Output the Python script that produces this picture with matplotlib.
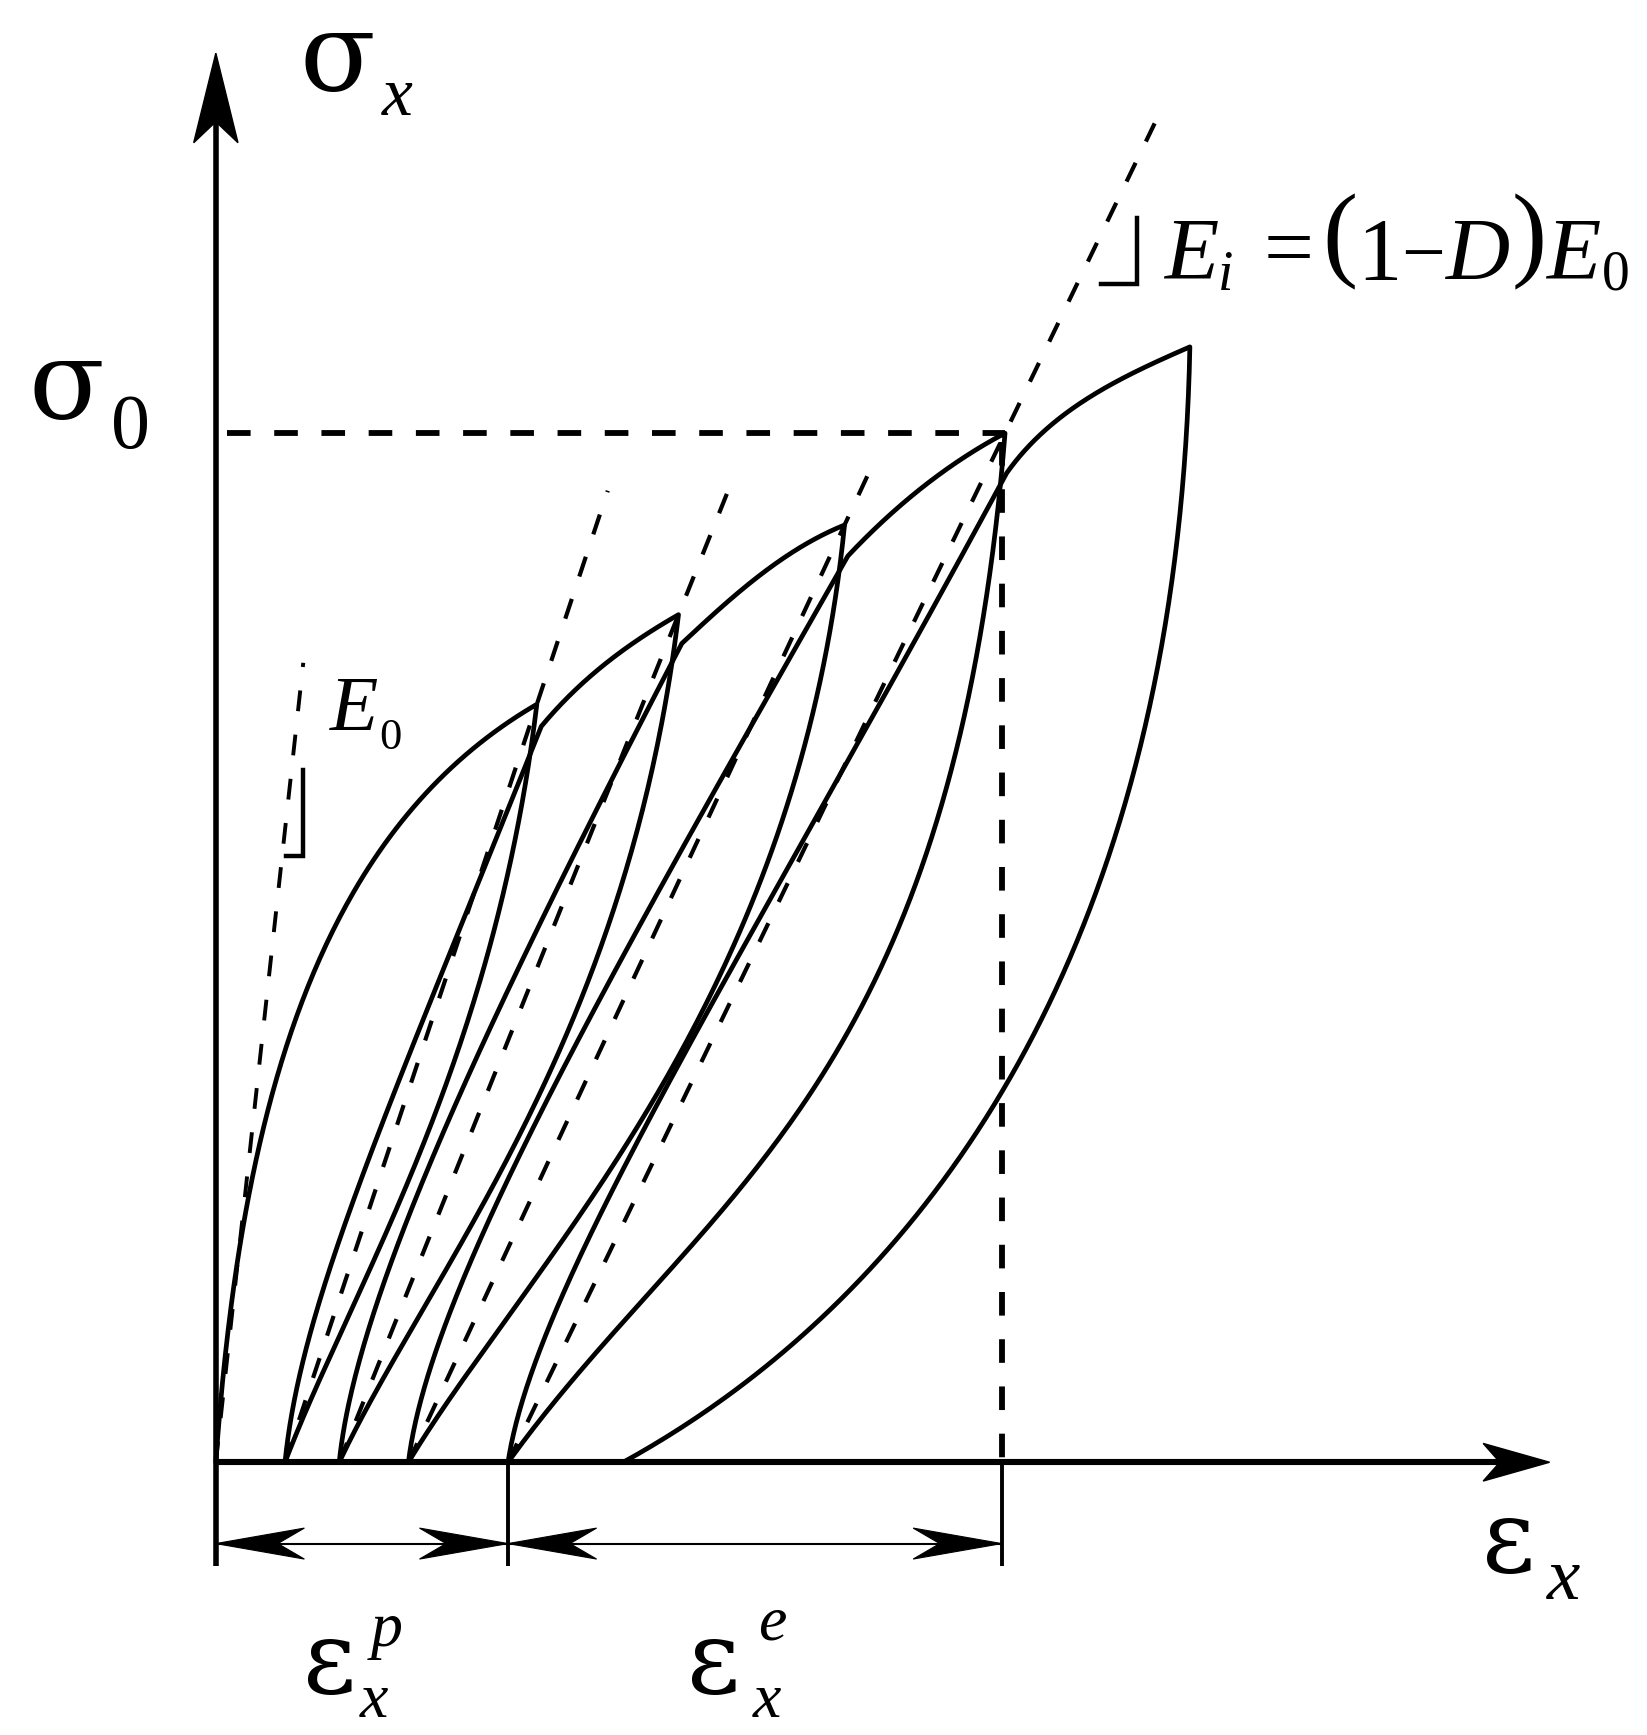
import numpy as np
import matplotlib
matplotlib.use("Agg")
import matplotlib.pyplot as plt
from matplotlib.patches import Polygon

plt.rcParams['lines.scale_dashes'] = False
plt.rcParams['font.family'] = ['Liberation Serif', 'DejaVu Serif']

# ---------------- data (schematic strain / stress units) ----------------
peak_eps  = [2.90, 4.18, 5.68, 7.13, 8.80]      # peaks of the loading envelope
peak_sig  = [6.85, 7.66, 8.47, 9.30, 10.08]
resid_eps = [0.625, 1.115, 1.74, 2.64, 3.68]    # residual (plastic) strains
cross_eps = [2.94, 4.21, 5.71, 7.145]           # reloading branch rejoins envelope
cross_sig = [6.65, 7.40, 8.19, 8.94]
sigma0 = 9.30
eps_total = 7.10                                # strain at sigma0
E0_top = [0.79, 7.225]                          # end of initial tangent (E0)
secant_top_sig = [8.78, 8.88, 8.97, 12.1]       # upper ends of secant lines E_i

# shape (tangent) parameters for the branches
env0_dir = [[0.07, 1.0], [0.86, 0.5]]
env0_len = [3.3, 2.25]
rel_dir0 = [[0.10, 1], [0.10, 1], [0.12, 1], [0.15, 1]]
rel_dir3 = [[0.40, 1], [0.52, 1], [0.57, 1], [0.54, 1]]
rel_len  = [[1.45, 3.8], [1.45, 4.0], [1.55, 4.5], [1.65, 5.0]]
env_dir0 = [[0.83, 1], [1.07, 1], [0.94, 1], [0.71, 1]]
env_dir3 = [[1.75, 1], [2.5, 1], [1.9, 1], [2.3, 1]]
env_len  = [[0.55, 0.55], [0.6, 0.6], [0.6, 0.6], [0.7, 0.7]]
unl_dir0 = [[-0.12, -1], [-0.12, -1], [-0.10, -1], [-0.08, -1], [-0.02, -1]]
unl_dir3 = [[-0.38, -1], [-0.47, -1], [-0.60, -1], [-0.72, -1], [-1.0, -0.55]]
unl_len  = [[3.3, 1.7], [3.9, 1.9], [4.4, 2.1], [6.0, 3.0], [6.0, 2.6]]


def bez(p0, p3, d0, d3, l0, l3, n=160):
    p0 = np.asarray(p0, float); p3 = np.asarray(p3, float)
    d0 = np.asarray(d0, float); d0 = d0 / np.hypot(*d0)
    d3 = np.asarray(d3, float); d3 = d3 / np.hypot(*d3)
    p1 = p0 + l0 * d0
    p2 = p3 - l3 * d3
    t = np.linspace(0, 1, n)[:, None]
    return (1 - t) ** 3 * p0 + 3 * (1 - t) ** 2 * t * p1 + 3 * (1 - t) * t ** 2 * p2 + t ** 3 * p3


fig = plt.figure(figsize=(16.47, 17.35), dpi=100)
ax = fig.add_axes([0, 0, 1, 1])
ax.set_xlim(-1.95, 12.93)
ax.set_ylim(-2.465, 13.215)
ax.axis('off')

LW = 3.4
peaks = list(zip(peak_eps, peak_sig))
resid = [(e, 0.0) for e in resid_eps]
cross = list(zip(cross_eps, cross_sig))

# first loading up to P1, then unloading to r1
seg_a = bez((0, 0), peaks[0], env0_dir[0], env0_dir[1], env0_len[0], env0_len[1])
seg_b = bez(peaks[0], resid[0], unl_dir0[0], unl_dir3[0], *unl_len[0])
path = np.vstack([seg_a, seg_b])
ax.plot(path[:, 0], path[:, 1], color='black', lw=LW, solid_joinstyle='round', solid_capstyle='round')

# reloading from r_i, envelope to P_{i+1}, unloading to r_{i+1}
for i in range(4):
    s1 = bez(resid[i], cross[i], rel_dir0[i], rel_dir3[i], *rel_len[i])
    s2 = bez(cross[i], peaks[i + 1], env_dir0[i], env_dir3[i], *env_len[i])
    s3 = bez(peaks[i + 1], resid[i + 1], unl_dir0[i + 1], unl_dir3[i + 1], *unl_len[i + 1])
    path = np.vstack([s1, s2, s3])
    ax.plot(path[:, 0], path[:, 1], color='black', lw=LW, solid_joinstyle='round', solid_capstyle='round')

# secant (damaged modulus) dashed lines
dash_s = (0, (15.0, 17.0))
for i in range(4):
    r = resid_eps[i]
    k = (peak_eps[i] - r) / peak_sig[i]
    st = secant_top_sig[i]
    ax.plot([r, r + k * st], [0, st], color='black', lw=3.0, linestyle=dash_s)

# initial tangent E0
ax.plot([0, E0_top[0]], [0, E0_top[1]], color='black', lw=2.8, linestyle=dash_s)

# sigma0 level and total strain
dash_l = (0, (17.0, 17.0))
ax.plot([0.1, peak_eps[3]], [sigma0, sigma0], color='black', lw=4.2, linestyle=dash_l)
ax.plot([eps_total, eps_total], [sigma0 - 0.08, 0], color='black', lw=4.2, linestyle=dash_l)

# slope markers
ax.plot([0.63, 0.79, 0.79], [5.475, 5.475, 6.255], color='black', lw=3.2, solid_joinstyle='miter')
ax.plot([8.0, 8.32, 8.32], [10.645, 10.645, 11.245], color='black', lw=3.2, solid_joinstyle='miter')

# axes
ax.plot([0, 0], [-0.94, 12.3], color='black', lw=4.0, solid_capstyle='butt')
ax.plot([0, 11.7], [0, 0], color='black', lw=4.4, solid_capstyle='butt')
ax.add_patch(Polygon([[0, 12.735], [0.20, 11.925], [0, 12.115], [-0.20, 11.925]],
                     closed=True, facecolor='black', edgecolor='black', lw=1))
ax.add_patch(Polygon([[12.05, 0], [11.45, 0.17], [11.60, 0], [11.45, -0.17]],
                     closed=True, facecolor='black', edgecolor='black', lw=1))

# dimension lines
ydim = -0.735
for x in [0, resid_eps[3], eps_total]:
    ax.plot([x, x], [0, -0.94], color='black', lw=2.8, solid_capstyle='butt')
for a, b in [(0, resid_eps[3]), (resid_eps[3], eps_total)]:
    ax.plot([a, b], [ydim, ydim], color='black', lw=1.5)
    L, H, N = 0.80, 0.14, 0.24
    ax.add_patch(Polygon([[a, ydim], [a + L, ydim + H], [a + L - N, ydim], [a + L, ydim - H]],
                         closed=True, facecolor='black', edgecolor='black', lw=0.8))
    ax.add_patch(Polygon([[b, ydim], [b - L, ydim + H], [b - L + N, ydim], [b - L, ydim - H]],
                         closed=True, facecolor='black', edgecolor='black', lw=0.8))

# ---------------- labels ----------------
def t(x, y, s, size, style='normal', family=None, **kw):
    kw2 = dict(fontsize=size, style=style, ha='left', va='baseline', color='black')
    if family is not None:
        kw2['family'] = family
    kw2.update(kw)
    ax.text(x, y, s, **kw2)

GREEK = ['DejaVu Serif']
t(0.76, 12.40, 'σ', 80, family=GREEK)
t(1.50, 12.175, 'x', 50, 'italic')
t(-1.69, 9.435, 'σ', 80, family=GREEK)
t(-0.95, 9.165, '0', 56)
t(1.03, 6.615, 'E', 57, 'italic')
t(1.48, 6.445, '0', 32)
t(11.44, -0.99, 'ε', 74, family=GREEK)
t(12.03, -1.235, 'x', 54, 'italic')
t(0.79, -2.085, 'ε', 74, family=GREEK)
t(1.40, -1.665, 'p', 46, 'italic')
t(1.30, -2.305, 'x', 46, 'italic')
t(4.26, -2.085, 'ε', 74, family=GREEK)
t(4.90, -1.605, 'e', 46, 'italic')
t(4.85, -2.305, 'x', 46, 'italic')

# E_i = (1 - D) E_0
t(8.57, 10.695, 'E', 64, 'italic')
t(9.05, 10.595, 'i', 40, 'italic')
t(9.47, 10.72, '=', 64)
t(10.00, 10.80, '(', 76, fontweight='light')
t(10.31, 10.695, '1', 64)
t(10.71, 10.70, '−', 56)
t(11.11, 10.695, 'D', 64, 'italic')
t(11.71, 10.80, ')', 76, fontweight='light')
t(12.02, 10.695, 'E', 64, 'italic')
t(12.52, 10.595, '0', 40)

fig.savefig('out.png', dpi=100, facecolor='white')
